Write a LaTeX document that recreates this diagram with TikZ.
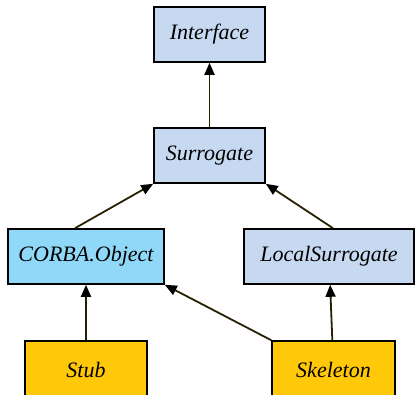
\documentclass[tikz,border=0pt]{standalone}
\usepackage{fontspec}
\setmainfont{Liberation Serif}
\newfontfamily\classfont{Liberation Serif Italic}
\usepackage{xcolor}
\usetikzlibrary{arrows.meta}

\definecolor{paleblue}{RGB}{198,217,241}
\definecolor{skyblue}{RGB}{143,216,248}
\definecolor{gold}{RGB}{255,200,8}
\definecolor{linkline}{RGB}{40,32,0}

\tikzset{
  classbox/.style={draw=black, line width=1.6pt, minimum height=55pt,
    inner sep=0pt, font=\fontsize{22}{26}\classfont},
  inherits/.style={draw=linkline, line width=1.8pt,
    -{Triangle[length=12pt,width=10pt,color=black]}}
}

\begin{document}
\begin{tikzpicture}[x=1pt,y=-1pt]
\useasboundingbox (0,0) rectangle (418,395);
\node [classbox, fill=paleblue, minimum width=111pt] (iface) at (209.5,34.5) {Interface};
\node [classbox, fill=paleblue, minimum width=111pt] (surr) at (209.5,155.5) {Surrogate};
\node [classbox, fill=skyblue, minimum width=156pt] (corba) at (86,256.5) {CORBA.Object};
\node [classbox, fill=paleblue, minimum width=170pt] (local) at (329,256.5) {LocalSurrogate};
\node [classbox, fill=gold, minimum width=122pt, minimum height=58pt] (stub) at (86,370) {Stub};
\node [classbox, fill=gold, minimum width=123pt, minimum height=58pt] (skel) at (333.5,370) {Skeleton};
% inheritance arrows
\draw [inherits] (surr) -- (iface);
\draw [inherits] ([xshift=-11pt]corba.north) -- (surr.south west);
\draw [inherits] ([xshift=4pt]local.north) -- (surr.south east);
\draw [inherits] (stub) -- (corba);
\draw [inherits] (skel.north west) -- (corba.south east);
\draw [inherits] (skel) -- (local);
\end{tikzpicture}
\end{document}
